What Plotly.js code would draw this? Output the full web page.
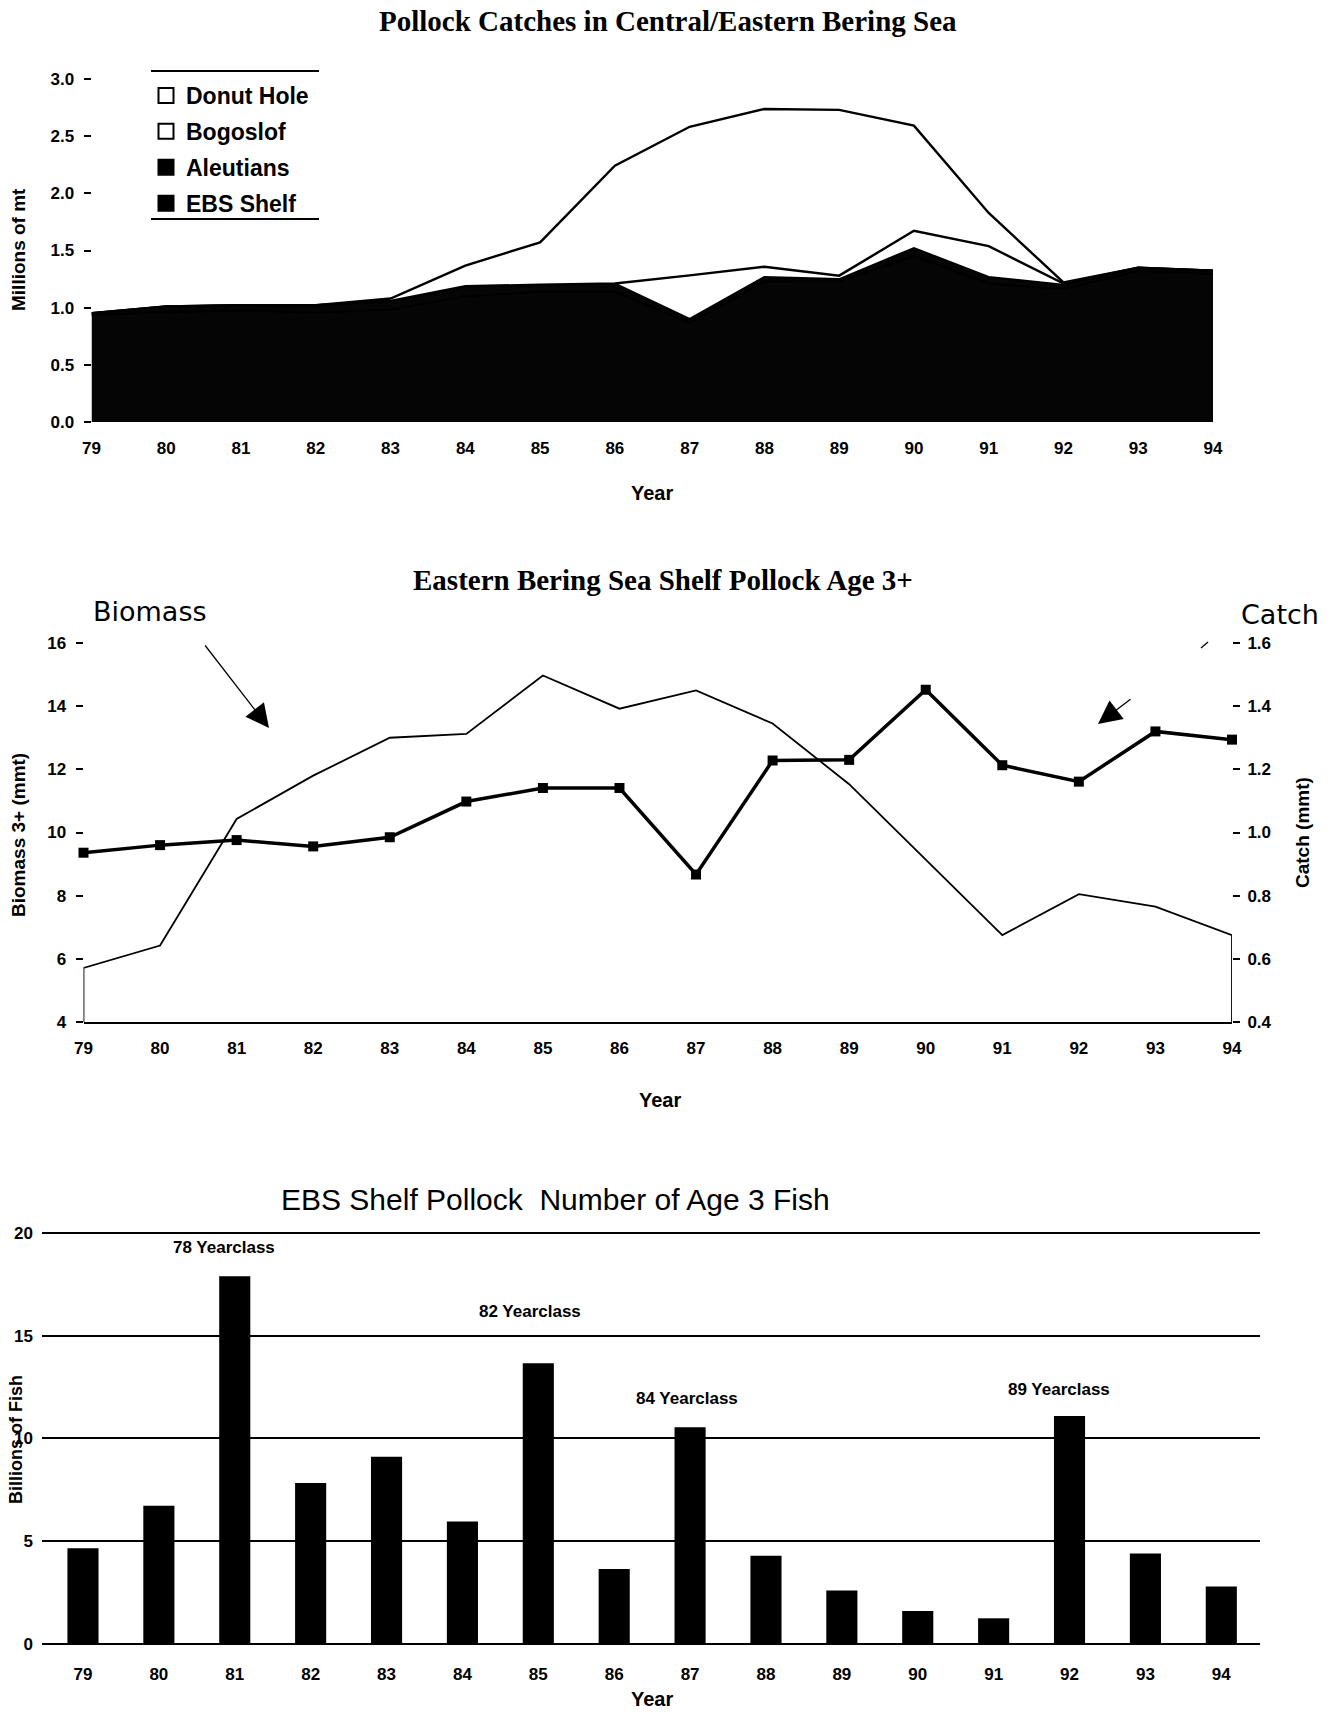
<!DOCTYPE html>
<html>
<head>
<meta charset="utf-8">
<script src="https://cdn.plot.ly/plotly-3.0.1.min.js"></script>
<style>html,body{margin:0;padding:0;background:#fff}#chart{width:1334px;height:1712px}</style>
</head>
<body>
<div id="chart"></div>
<script>
// ---------- data ----------
const years = [79,80,81,82,83,84,85,86,87,88,89,90,91,92,93,94];
const yearLabels = ['79','80','81','82','83','84','85','86','87','88','89','90','91','92','93','94'];

// Chart 1: catches (millions of mt), stacked
const ebsShelfCatch  = [0.936,0.960,0.976,0.956,0.985,1.098,1.141,1.141,0.867,1.228,1.230,1.452,1.213,1.161,1.320,1.294];
const aleutiansCatch = [0.015,0.050,0.045,0.065,0.075,0.090,0.060,0.070,0.035,0.040,0.020,0.070,0.055,0.040,0.030,0.030];
const bogoslofCatch  = [0,0,0,0,0,0,0,0,0.38,0.09,0.03,0.15,0.27,0.01,0,0];
const donutHoleCatch = [0,0,0,0,0.02,0.18,0.37,1.03,1.30,1.38,1.45,0.92,0.29,0.01,0,0];

// Chart 2: age 3+ biomass (mmt) and catch (mmt)
const biomass3plus = [5.71,6.42,10.43,11.8,13.0,13.12,14.97,13.92,14.5,13.45,11.53,9.14,6.75,8.05,7.65,6.75];
const shelfCatch   = [0.936,0.960,0.976,0.956,0.985,1.098,1.141,1.141,0.867,1.228,1.230,1.452,1.213,1.161,1.320,1.294];

// Chart 3: number of age 3 fish (billions)
const age3Numbers = [4.66,6.73,17.9,7.83,9.11,5.96,13.66,3.65,10.55,4.3,2.6,1.6,1.25,11.1,4.4,2.8];
const yearclassLabels = ['78 Yearclass','82 Yearclass','84 Yearclass','89 Yearclass'];
const yearclassX = [80.86,84.89,86.96,91.86];
const yearclassY = [19.27,16.2,11.97,12.4];

// ---------- layout helpers ----------
const W = 1334, H = 1712;
const px = v => v / W;
const py = v => 1 - v / H;
const SANS = 'Liberation Sans, Arial, sans-serif';
const SERIF = 'Liberation Serif, Times New Roman, serif';
const tickFont = {family: SANS, size: 17, color: '#000', weight: 'bold'};
const BIOMASS_MIN = 4, BIOMASS_MAX = 16;

const traces = [];
// chart 1 stacked areas
traces.push({x: years, y: ebsShelfCatch, name: 'EBS Shelf', type: 'scatter', mode: 'lines', stackgroup: 'c1',
  line: {color: '#000', width: 2}, fillcolor: '#050505', showlegend: false, xaxis: 'x', yaxis: 'y'});
traces.push({x: years, y: aleutiansCatch, name: 'Aleutians', type: 'scatter', mode: 'lines', stackgroup: 'c1',
  line: {color: '#000', width: 2}, fillcolor: '#050505', showlegend: false, xaxis: 'x', yaxis: 'y'});
traces.push({x: years, y: bogoslofCatch, name: 'Bogoslof', type: 'scatter', mode: 'lines', stackgroup: 'c1',
  line: {color: '#000', width: 2.4}, fillcolor: '#fff', showlegend: false, xaxis: 'x', yaxis: 'y'});
traces.push({x: years, y: donutHoleCatch, name: 'Donut Hole', type: 'scatter', mode: 'lines', stackgroup: 'c1',
  line: {color: '#000', width: 2.4}, fillcolor: '#fff', showlegend: false, xaxis: 'x', yaxis: 'y'});
// legend proxies (square symbols)
const legendItems = [['Donut Hole','#fff'],['Bogoslof','#fff'],['Aleutians','#000'],['EBS Shelf','#000']];
legendItems.forEach((it, i) => {
  traces.push({x: [null], y: [null], name: it[0], type: 'scatter', mode: 'markers', legendgroup: 'g' + i,
    marker: {symbol: 'square', size: 15, color: it[1], line: {color: '#000', width: 2}}, xaxis: 'x', yaxis: 'y'});
});

// chart 2
traces.push({x: [years[0]].concat(years, [years[years.length - 1]]),
  y: [BIOMASS_MIN].concat(biomass3plus, [BIOMASS_MIN]),
  type: 'scatter', mode: 'lines', line: {color: '#000', width: 1.8}, showlegend: false, xaxis: 'x2', yaxis: 'y2', cliponaxis: false});
traces.push({x: years, y: shelfCatch, type: 'scatter', mode: 'lines+markers',
  line: {color: '#000', width: 3.5}, marker: {symbol: 'square', size: 10, color: '#000'},
  showlegend: false, xaxis: 'x2', yaxis: 'y3', cliponaxis: false});

// chart 3
traces.push({x: years, y: age3Numbers, type: 'bar', width: 0.41, marker: {color: '#000'},
  showlegend: false, xaxis: 'x3', yaxis: 'y4'});

const noGrid = {showgrid: false, zeroline: false, showline: false};

const annotations = [];
function txt(text, x, y, font, extra) {
  annotations.push(Object.assign({text: text, x: x, y: y, xref: 'paper', yref: 'paper', showarrow: false,
    xanchor: 'center', yanchor: 'middle', font: font}, extra || {}));
}
// titles
txt('Pollock Catches in Central/Eastern Bering Sea', px(668), py(21), {family: SERIF, size: 29, color: '#000', weight: 'bold'});
txt('Eastern Bering Sea Shelf Pollock Age 3+', px(663), py(580), {family: SERIF, size: 29, color: '#000', weight: 'bold'});
txt('EBS Shelf Pollock  Number of Age 3 Fish', px(555), py(1199), {family: SANS, size: 30, color: '#000'});
// axis titles
const axFont = {family: SANS, size: 19, color: '#000', weight: 'bold'};
txt('Millions of mt', px(18), py(250), axFont, {textangle: -90});
txt('Year', px(652), py(493), Object.assign({}, axFont, {size: 20}));
txt('Biomass 3+ (mmt)', px(18), py(835), axFont, {textangle: -90});
txt('Catch (mmt)', px(1302), py(833), axFont, {textangle: -90});
txt('Year', px(660), py(1100), Object.assign({}, axFont, {size: 20}));
txt('Billions of Fish', px(16), py(1440), Object.assign({}, axFont, {size: 18}), {textangle: -90});
txt('Year', px(652), py(1699), Object.assign({}, axFont, {size: 20}));
// chart 2 labels & arrows
txt('Biomass', px(150), py(611), {family: 'DejaVu Sans, sans-serif', size: 27, color: '#000'});
txt('Catch', px(1280), py(614), {family: 'DejaVu Sans, sans-serif', size: 27, color: '#000'});
annotations.push({x: px(269), y: py(728), xref: 'paper', yref: 'paper', text: '', showarrow: true,
  ax: -65, ay: -84, arrowhead: 2, arrowsize: 3.6, arrowwidth: 1.3, arrowcolor: '#000', standoff: 0});
annotations.push({x: px(1098), y: py(724), xref: 'paper', yref: 'paper', text: '', showarrow: true,
  ax: 34, ay: -26, arrowhead: 2, arrowsize: 3.6, arrowwidth: 1.3, arrowcolor: '#000', standoff: 0});
// chart 3 yearclass labels
yearclassLabels.forEach((t, i) => {
  annotations.push({text: t, x: yearclassX[i], y: yearclassY[i], xref: 'x3', yref: 'y4', showarrow: false,
    xanchor: 'center', yanchor: 'middle', font: {family: SANS, size: 17, color: '#000', weight: 'bold'}});
});

const layout = {
  width: W, height: H,
  margin: {l: 0, r: 0, t: 0, b: 0},
  paper_bgcolor: '#fff', plot_bgcolor: 'rgba(0,0,0,0)',
  showlegend: true,
  legend: {x: px(146), y: py(74), xanchor: 'left', yanchor: 'top', bgcolor: 'rgba(0,0,0,0)',
    borderwidth: 0, tracegroupgap: 3, itemclick: false,
    font: {family: SANS, size: 23, color: '#000', weight: 'bold'}},
  // chart 1
  xaxis: Object.assign({domain: [px(91.5), px(1213)], range: [79, 94], tickvals: years, ticktext: yearLabels,
    ticks: '', tickfont: tickFont, ticklabelstandoff: 14, anchor: 'y'}, noGrid),
  yaxis: Object.assign({domain: [py(422), py(79)], range: [0, 3], tickvals: [0,0.5,1,1.5,2,2.5,3], tickformat: '.1f',
    ticks: 'outside', ticklen: 7, tickwidth: 2, tickcolor: '#000', tickfont: tickFont, ticklabelstandoff: 6, anchor: 'x'}, noGrid),
  // chart 2
  xaxis2: {domain: [px(83.5), px(1232)], range: [79, 94], tickvals: years, ticktext: yearLabels, ticks: '',
    tickfont: tickFont, ticklabelstandoff: 10, showline: true, linecolor: '#000', linewidth: 2,
    showgrid: false, zeroline: false, anchor: 'y2'},
  yaxis2: Object.assign({domain: [py(1022), py(643)], range: [BIOMASS_MIN, BIOMASS_MAX], dtick: 2,
    ticks: 'outside', ticklen: 7, tickwidth: 2, tickcolor: '#000', tickfont: tickFont, ticklabelstandoff: 6, anchor: 'x2'}, noGrid),
  yaxis3: Object.assign({overlaying: 'y2', side: 'right', range: [0.4, 1.6], dtick: 0.2, tickformat: '.1f',
    ticks: 'outside', ticklen: 7, tickwidth: 2, tickcolor: '#000', tickfont: tickFont, ticklabelstandoff: 4, anchor: 'x2'}, noGrid),
  // chart 3
  xaxis3: Object.assign({domain: [px(42), px(1260)], range: [78.46, 94.51], tickvals: years, ticktext: yearLabels,
    ticks: '', tickfont: tickFont, ticklabelstandoff: 18, anchor: 'y4'}, noGrid),
  yaxis4: {domain: [py(1644), py(1222.7)], range: [0, 20.5], tickvals: [0,5,10,15,20], ticks: '',
    showgrid: true, gridcolor: '#000', gridwidth: 2, zeroline: true, zerolinecolor: '#000', zerolinewidth: 2,
    showline: false, tickfont: tickFont, ticklabelstandoff: 8, anchor: 'x3'},
  annotations: annotations,
  shapes: [
    {type: 'line', xref: 'paper', yref: 'paper', x0: px(151), x1: px(319), y0: py(71), y1: py(71), line: {color: '#000', width: 2}},
    {type: 'line', xref: 'paper', yref: 'paper', x0: px(151), x1: px(319), y0: py(219), y1: py(219), line: {color: '#000', width: 2}},
    {type: 'line', xref: 'paper', yref: 'paper', x0: px(1201), x1: px(1208), y0: py(648), y1: py(642), line: {color: '#000', width: 1.3}}
  ]
};

Plotly.newPlot('chart', traces, layout, {displayModeBar: false, staticPlot: true});
</script>
</body>
</html>
